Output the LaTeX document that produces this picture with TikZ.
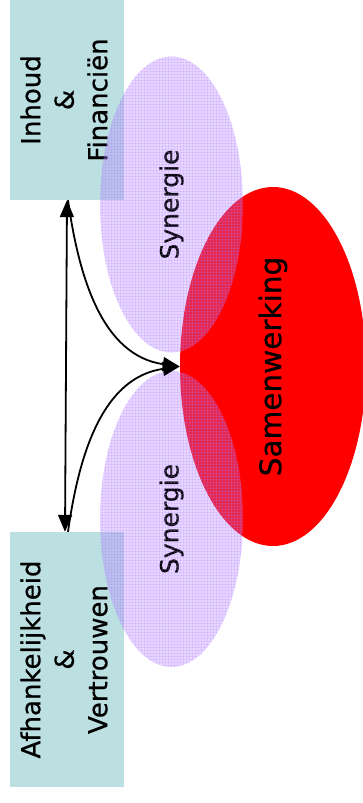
\documentclass[tikz,border=0pt]{standalone}
\usepackage{fontspec}
\setmainfont[FakeBold=0.7]{DejaVu Sans}
\usetikzlibrary{shapes.geometric,arrows.meta,patterns}
\definecolor{boxcol}{HTML}{BCE0E2}
\definecolor{syncol}{HTML}{B27DFF}
\definecolor{samcol}{HTML}{FF0000}

\begin{document}
\begin{tikzpicture}[x=1pt, y=1pt,
  box/.style={rectangle, fill=boxcol, minimum width=114pt, inner sep=0pt,
              font=\fontsize{26}{33.5}\selectfont},
  syn/.style={ellipse, fill=syncol, fill opacity=0.3, text opacity=1,
              minimum width=143pt, minimum height=296pt, inner sep=0pt,
              font=\fontsize{25}{30}\selectfont},
  sam/.style={ellipse, fill=samcol, minimum width=186pt, minimum height=359pt,
              inner sep=0pt, font=\fontsize{29.5}{35}\selectfont},
  link/.style={-{Triangle[length=17pt,width=14pt]}, line width=1.8pt},
  both/.style={{Triangle[length=17pt,width=14pt]}-{Triangle[length=17pt,width=14pt]}, line width=1.8pt}
]
  \useasboundingbox (0,0) rectangle (362,-803);

  \node[box, minimum height=200pt] (inh) at (67,-100)
    {\rotatebox{90}{\begin{tabular}{@{}c@{}}Inhoud\\\&\\Financiën\end{tabular}}};
  \node[box, minimum height=255pt] (afh) at (67,-659.5)
    {\rotatebox{90}{\begin{tabular}{@{}c@{}}Afhankelijkheid\\\&\\Vertrouwen\end{tabular}}};

  \node[sam] (sam) at (273,-366.5) {\rotatebox{90}{Samenwerking}};
  \node[syn] (synA) at (171.5,-204.5) {\rotatebox{90}{Synergie}};
  \node[syn] (synB) at (171.5,-519) {\rotatebox{90}{Synergie}};
  % fine grid on the synergy fields
  \fill[pattern=grid, pattern color=syncol, opacity=0.2] (synA.center) ellipse [x radius=71.5, y radius=148];
  \fill[pattern=grid, pattern color=syncol, opacity=0.2] (synB.center) ellipse [x radius=71.5, y radius=148];

  \draw[both] (inh.south) -- ([xshift=-2pt]afh.north);
  \draw[link] ([xshift=1pt]inh.south) to[out=-82, in=172] (sam.west);
  \draw[link] ([xshift=1pt]afh.north) to[out=82, in=188] (sam.west);
\end{tikzpicture}
\end{document}
